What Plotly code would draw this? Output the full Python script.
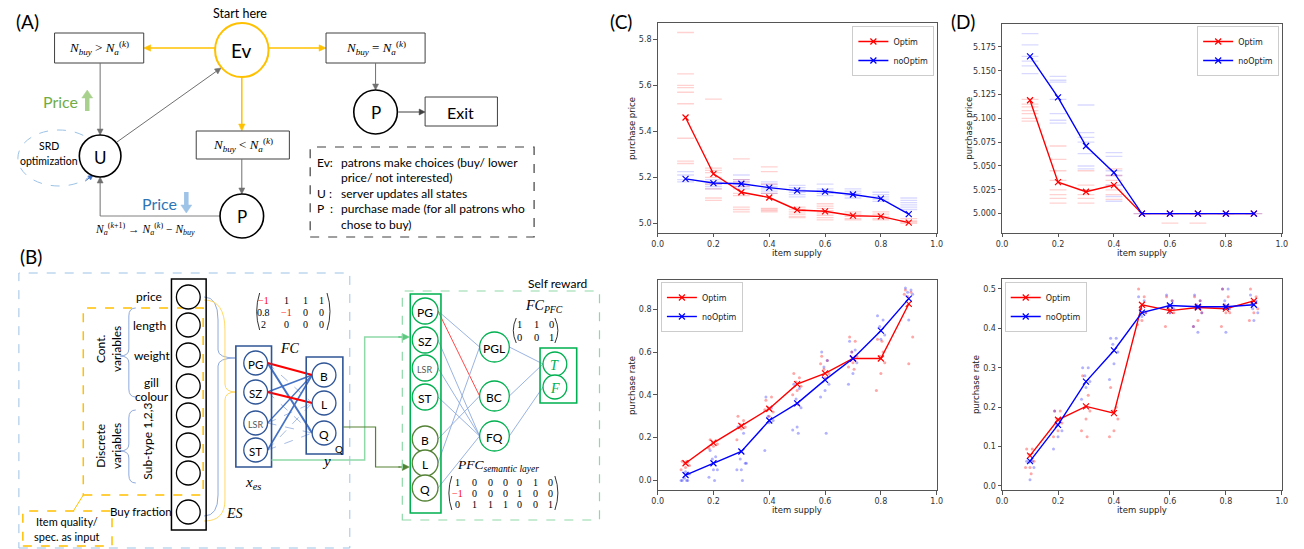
import math
import plotly.graph_objects as go

W, H = 1304, 549

# ---------------- data ----------------
SUPPLY = [0.1, 0.2, 0.3, 0.4, 0.5, 0.6, 0.7, 0.8, 0.9]
SERIES = ["Optim", "noOptim"]

C_PRICE_OPTIM = [5.46, 5.215, 5.135, 5.112, 5.058, 5.052, 5.033, 5.030, 5.003]
C_PRICE_NOOPTIM = [5.193, 5.175, 5.172, 5.155, 5.142, 5.138, 5.125, 5.107, 5.040]
D_PRICE_OPTIM = [5.119, 5.033, 5.023, 5.030, 5.000, 5.000, 5.000, 5.000, 5.000]
D_PRICE_NOOPTIM = [5.165, 5.122, 5.071, 5.043, 5.000, 5.000, 5.000, 5.000, 5.000]
C_RATE_OPTIM = [0.080, 0.175, 0.255, 0.335, 0.450, 0.500, 0.570, 0.570, 0.825]
C_RATE_NOOPTIM = [0.025, 0.080, 0.135, 0.280, 0.360, 0.470, 0.570, 0.700, 0.850]
D_RATE_OPTIM = [0.077, 0.168, 0.202, 0.185, 0.460, 0.445, 0.453, 0.450, 0.470]
D_RATE_NOOPTIM = [0.063, 0.155, 0.265, 0.344, 0.440, 0.458, 0.455, 0.455, 0.460]

# individual runs (per supply level)
C_PRICE_OPTIM_RUNS = [
    [5.83, 5.65, 5.60, 5.59, 5.57, 5.52, 5.37, 5.27, 5.26],
    [5.54, 5.24, 5.23, 5.22, 5.20, 5.17, 5.15, 5.11, 5.10],
    [5.28, 5.19, 5.18, 5.16, 5.13, 5.12, 5.07, 5.06, 5.05],
    [5.245, 5.225, 5.17, 5.13, 5.065, 5.06, 5.055, 5.05],
    [5.07, 5.06, 5.05, 5.04, 5.03, 5.025],
    [5.085, 5.075, 5.065, 5.055, 5.045, 5.035, 5.025, 5.015],
    [5.05, 5.04, 5.03, 5.02, 5.015],
    [5.05, 5.04, 5.03, 5.02, 5.015],
    [5.02, 5.01, 5.005, 5.0],
]
C_PRICE_NOOPTIM_RUNS = [
    [5.225, 5.21, 5.19, 5.18],
    [5.19, 5.18, 5.17, 5.16, 5.15],
    [5.21, 5.19, 5.18, 5.17, 5.16, 5.15],
    [5.18, 5.17, 5.16, 5.15, 5.14, 5.13],
    [5.165, 5.155, 5.145, 5.135, 5.125, 5.115],
    [5.17, 5.15, 5.14, 5.13, 5.12],
    [5.15, 5.14, 5.13, 5.12, 5.11],
    [5.135, 5.125, 5.115, 5.105, 5.095],
    [5.11, 5.10, 5.09, 5.08, 5.07, 5.06],
]
D_PRICE_OPTIM_RUNS = [
    [5.12, 5.115, 5.112, 5.108, 5.105, 5.100, 5.097],
    [5.071, 5.057, 5.045, 5.035, 5.025, 5.020, 5.016, 5.011],
    [5.045, 5.030, 5.025, 5.020, 5.016, 5.011],
    [5.047, 5.040, 5.035, 5.030, 5.025, 5.020, 5.015],
    [5.000],
    [5.000, 4.990],
    [5.000, 4.990],
    [5.000],
    [5.000],
]
D_PRICE_NOOPTIM_RUNS = [
    [5.189, 5.177, 5.165, 5.160, 5.155, 5.147],
    [5.144, 5.140, 5.138, 5.120, 5.105, 5.098, 5.095],
    [5.114, 5.085, 5.080, 5.075, 5.063, 5.050, 5.047],
    [5.064, 5.060, 5.045, 5.040, 5.030, 5.018, 5.013],
    [5.000], [5.000], [5.000], [5.000], [5.000],
]
C_RATE_OPTIM_RUNS = [
    [0.09, 0.085, 0.08, 0.07, 0.06, 0.05, 0.09],
    [0.19, 0.185, 0.18, 0.17, 0.16, 0.15],
    [0.30, 0.28, 0.26, 0.25, 0.24, 0.19],
    [0.375, 0.39, 0.34, 0.32, 0.30, 0.33],
    [0.50, 0.48, 0.46, 0.44, 0.42, 0.40, 0.355],
    [0.58, 0.56, 0.52, 0.50, 0.48, 0.545],
    [0.67, 0.65, 0.60, 0.58, 0.55, 0.53, 0.52],
    [0.66, 0.60, 0.58, 0.55, 0.50, 0.42, 0.65],
    [0.89, 0.88, 0.86, 0.67, 0.545, 0.87],
]
C_RATE_NOOPTIM_RUNS = [
    [0.0, 0.0, 0.01, 0.03, 0.04, 0.0, 0.0],
    [0.14, 0.11, 0.10, 0.05, 0.05, 0.015, 0.0],
    [0.25, 0.22, 0.10, 0.08, 0.05, 0.05, 0.0, 0.08],
    [0.39, 0.34, 0.30, 0.28, 0.27, 0.14],
    [0.45, 0.43, 0.38, 0.34, 0.25, 0.235, 0.22],
    [0.60, 0.56, 0.53, 0.45, 0.42, 0.39, 0.22],
    [0.65, 0.61, 0.60, 0.55, 0.50, 0.45],
    [0.77, 0.75, 0.72, 0.68, 0.66],
    [0.90, 0.89, 0.88, 0.87, 0.75],
]
D_RATE_OPTIM_RUNS = [
    [0.094, 0.094, 0.08, 0.063, 0.047, 0.047, 0.031],
    [0.19, 0.19, 0.17, 0.16, 0.14, 0.125],
    [0.28, 0.23, 0.20, 0.19, 0.17, 0.14, 0.125],
    [0.25, 0.20, 0.19, 0.17, 0.14, 0.125],
    [0.50, 0.48, 0.45, 0.44, 0.42, 0.41],
    [0.48, 0.47, 0.45, 0.44, 0.44, 0.405],
    [0.48, 0.47, 0.46, 0.44, 0.42, 0.405],
    [0.50, 0.48, 0.46, 0.44, 0.44, 0.405],
    [0.50, 0.48, 0.47, 0.45, 0.44, 0.42],
]
D_RATE_NOOPTIM_RUNS = [
    [0.063, 0.063, 0.06, 0.047, 0.016],
    [0.19, 0.17, 0.155, 0.14, 0.125, 0.094],
    [0.30, 0.30, 0.28, 0.265, 0.25, 0.22],
    [0.375, 0.375, 0.36, 0.34, 0.31, 0.27],
    [0.48, 0.47, 0.45, 0.44, 0.43],
    [0.485, 0.47, 0.46, 0.45, 0.44],
    [0.485, 0.47, 0.455, 0.44, 0.39, 0.405],
    [0.50, 0.50, 0.47, 0.45, 0.39],
    [0.485, 0.47, 0.45, 0.44, 0.42],
]
JITTER = [-0.012, 0.008, -0.004, 0.014, 0.0, -0.016, 0.004, 0.018, -0.008, 0.012]

FC_MATRIX = [["−1", "1", "1", "1"], ["0.8", "−1", "0", "0"], ["2", "0", "0", "0"]]
FCPFC_MATRIX = [["1", "1", "0"], ["0", "0", "1"]]
PFC_MATRIX = [["1", "0", "0", "0", "0", "1", "0"],
              ["−1", "0", "0", "0", "1", "0", "0"],
              ["0", "1", "1", "1", "0", "0", "1"]]

# ---------------- helpers ----------------
SANS = "Lato"
SERIF = "Liberation Serif"
PLT = "DejaVu Sans"
shapes, anns = [], []


def X(p):
    return p / W


def Y(p):
    return 1 - p / H


def txt(x, y, s, size=12, color="black", family=SANS, xanchor="center", angle=0):
    anns.append(dict(x=X(x), y=Y(y), xref="paper", yref="paper", text=s, showarrow=False,
                     font=dict(size=size, color=color, family=family), xanchor=xanchor,
                     yanchor="middle", textangle=angle, borderpad=0))


def rect(x0, y0, x1, y1, color="black", width=1.0, dash="solid", fill="rgba(0,0,0,0)"):
    shapes.append(dict(type="rect", xref="paper", yref="paper", x0=X(x0), x1=X(x1), y0=Y(y1), y1=Y(y0),
                       line=dict(color=color, width=width, dash=dash), fillcolor=fill, layer="above"))


def circ(cx, cy, r, color="black", width=1.5, fill="white", dash="solid"):
    shapes.append(dict(type="circle", xref="paper", yref="paper", x0=X(cx - r), x1=X(cx + r),
                       y0=Y(cy + r), y1=Y(cy - r), line=dict(color=color, width=width, dash=dash),
                       fillcolor=fill, layer="above"))


def ellipse(x0, y0, x1, y1, color, width=1.0, dash="dash"):
    shapes.append(dict(type="circle", xref="paper", yref="paper", x0=X(x0), x1=X(x1), y0=Y(y1), y1=Y(y0),
                       line=dict(color=color, width=width, dash=dash), fillcolor="rgba(0,0,0,0)", layer="above"))


def seg(x0, y0, x1, y1, color="#7f7f7f", width=1.0, dash="solid"):
    shapes.append(dict(type="line", xref="paper", yref="paper", x0=X(x0), x1=X(x1), y0=Y(y0), y1=Y(y1),
                       line=dict(color=color, width=width, dash=dash), layer="above"))


def path(cmds, color, width=1.0, dash="solid", fill=None):
    parts = []
    for c in cmds:
        op, pts = c[0], c[1:]
        coords = []
        for i in range(0, len(pts), 2):
            coords.append(f"{X(pts[i]):.5f},{Y(pts[i + 1]):.5f}")
        parts.append(op + " " + " ".join(coords))
    sh = dict(type="path", xref="paper", yref="paper", path=" ".join(parts),
              line=dict(color=color, width=width, dash=dash), layer="above")
    if fill:
        sh["fillcolor"] = fill
    shapes.append(sh)


def arrow(x0, y0, x1, y1, color="#606060", width=1.0, hl=7.0, hw=3.2):
    """straight arrow drawn as a line plus a filled triangular head"""
    dx, dy = x1 - x0, y1 - y0
    L = math.hypot(dx, dy)
    ux, uy = dx / L, dy / L
    bx, by = x1 - ux * hl, y1 - uy * hl
    seg(x0, y0, bx + ux * 0.5, by + uy * 0.5, color, width)
    path([("M", x1, y1), ("L", bx - uy * hw, by + ux * hw), ("L", bx + uy * hw, by - ux * hw), ("Z",)],
         color, 0.5, fill=color)


def matrix(rows, xs, ys, lx, rx, top, bot, size=10, red="−1"):
    for r, row in enumerate(rows):
        for c, v in enumerate(row):
            txt(xs[c], ys[r], v, size=size, color="#ff0000" if v == red else "black", family=SERIF)
    mid = (top + bot) / 2
    path([("M", lx + 3, top), ("Q", lx - 3, mid, lx + 3, bot)], "black", 0.8)
    path([("M", rx - 3, top), ("Q", rx + 3, mid, rx - 3, bot)], "black", 0.8)


def math_n(rel):
    return ("<i>N<sub>buy</sub></i> " + rel + " <i>N<sub>a</sub></i><sup>(<i>k</i>)</sup>")


# ---------------- panel A ----------------
ORANGE = "#FFC000"
txt(22, 21, "(A)", size=19)
txt(236, 14, "Start here", size=12.5)
arrow(211, 48, 139, 48, ORANGE, 1.5)
arrow(265, 48, 323, 48, ORANGE, 1.5)
arrow(238, 77, 238, 131, ORANGE, 1.5)
circ(238, 50, 27, ORANGE, 2)
txt(238, 51, "Ev", size=19)
rect(49, 33, 139, 63, "#404040", 1)
txt(94, 48, math_n("&gt;"), size=13, family=SERIF)
rect(323, 33, 423, 63, "#404040", 1)
txt(373, 48, math_n("="), size=13, family=SERIF)
rect(192, 131, 286, 159, "#404040", 1)
txt(239, 145, math_n("&lt;"), size=13, family=SERIF)
arrow(238, 159, 238, 194, "#707070", 1, 6, 3)
arrow(95, 63, 95, 135, "#707070", 1, 6, 3)
arrow(112, 142, 217, 68, "#707070", 1, 6, 3)
seg(216, 216, 95, 216, "#808080", 1)
arrow(95, 216, 95, 177, "#707070", 1, 6, 3)
ellipse(12, 130, 95, 186, "#9DC3E6", 1, "dash")
arrow(80, 181, 88, 175, "#4472C4", 1, 5, 2.5)
circ(238, 216, 22, "black", 1.6)
txt(238, 217, "P", size=17)
circ(95, 156, 21, "black", 1.6)
txt(95, 157, "U", size=17)
txt(43, 146, "SRD", size=10.5)
txt(43, 161, "optimization", size=10.5)
txt(55, 101, "Price", size=16, color="#70AD47")
arrow(82, 111, 82, 90, "#A9D18E", 4.5, 8, 5.5)
txt(155, 203, "Price", size=16, color="#2E75B6")
arrow(182, 192, 182, 213, "#9DC3E6", 4.5, 8, 5.5)
txt(140, 229, "<i>N<sub>a</sub></i><sup>(<i>k</i>+1)</sup> → <i>N<sub>a</sub></i><sup>(<i>k</i>)</sup> − <i>N<sub>buy</sub></i>",
    size=11.5, family=SERIF)
arrow(373, 63, 373, 90, "#707070", 1, 6, 3)
circ(373, 112, 22, "black", 1.6)
txt(373, 113, "P", size=17)
arrow(396, 112, 423, 112, "#404040", 1, 6, 3)
rect(423, 97, 496, 126, "#404040", 1)
txt(459, 112, "Exit", size=16)
rect(307, 147, 533, 237, "#404040", 1.2, "dash")
txt(313, 162, "Ev:", size=12, xanchor="left")
txt(337, 162, "patrons make choices (buy/ lower", size=12, xanchor="left")
txt(337, 177, "price/ not interested)", size=12, xanchor="left")
txt(313, 193, "U :", size=12, xanchor="left")
txt(337, 193, "server updates all states", size=12, xanchor="left")
txt(313, 208, "P  :", size=12, xanchor="left")
txt(337, 208, "purchase made (for all patrons who", size=12, xanchor="left")
txt(337, 224, "chose to buy)", size=12, xanchor="left")

# ---------------- panel B ----------------
LBLUE = "#9DC3E6"
DBLUE = "#2F5597"
MBLUE = "#4472C4"
LINEBLUE = "#8FAADC"
GREEN = "#00B050"
OLIVE = "#548235"
LGREEN = "#8FD9A8"

txt(25, 256, "(B)", size=19)
rect(13, 273, 347, 548, LBLUE, 1, "dash")
rect(78, 308, 199, 495, ORANGE, 1.5, "dash")
rect(17, 511, 107, 546, ORANGE, 1.5, "dash")
seg(78, 495, 68, 511, ORANGE, 1)
txt(62, 521, "Item quality/", size=11)
txt(62, 536, "spec. as input", size=11)

# braces connecting inputs to ES
path([("M", 200, 297), ("Q", 214, 297, 214, 320), ("L", 214, 350), ("Q", 214, 358, 232, 358)], LINEBLUE, 1)
path([("M", 200, 516), ("Q", 214, 516, 214, 495), ("L", 214, 366), ("Q", 214, 358, 232, 358)], LINEBLUE, 1)
path([("M", 200, 300), ("Q", 221, 300, 221, 330), ("L", 221, 384), ("Q", 221, 392, 232, 392)], "#FFD966", 1)
path([("M", 200, 521), ("Q", 221, 521, 221, 500), ("L", 221, 400), ("Q", 221, 392, 232, 392)], "#FFD966", 1)

rect(167, 279, 202, 530, "black", 1.5)
for cy in [297, 325, 355, 386, 415, 445, 473, 512]:
    circ(184, cy, 12, "black", 1.3)
txt(144, 296, "price", size=12)
txt(145, 325, "length", size=12)
txt(147, 355, "weight", size=12)
txt(147, 382, "gill", size=12)
txt(147, 396, "colour", size=12)
txt(136, 511, "Buy fraction", size=11.5)
txt(142, 441, "Sub-type 1,2,3", size=12, angle=-90)
txt(103, 349, "Cont.<br>variables", size=12, angle=-90)
txt(103, 446, "Discrete<br>variables", size=12, angle=-90)
path([("M", 131, 308), ("Q", 124, 308, 124, 316), ("L", 124, 349), ("Q", 124, 356, 115, 356),
      ("Q", 124, 356, 124, 363), ("L", 124, 389), ("Q", 124, 397, 131, 397)], LINEBLUE, 1)
path([("M", 131, 410), ("Q", 124, 410, 124, 418), ("L", 124, 444), ("Q", 124, 451, 115, 451),
      ("Q", 124, 451, 124, 458), ("L", 124, 475), ("Q", 124, 483, 131, 483)], LINEBLUE, 1)

# FC connections
XES_Y = [363, 392, 423, 450]
Y_Y = [375, 403, 433]
for (i, j, col, w, d) in [
    (0, 1, LINEBLUE, 0.8, "dash"), (1, 2, LINEBLUE, 0.8, "dash"), (2, 1, LINEBLUE, 0.8, "dash"),
    (2, 2, LINEBLUE, 0.8, "dash"), (3, 2, LINEBLUE, 0.8, "dash"), (3, 1, LINEBLUE, 0.8, "dash"),
    (1, 0, MBLUE, 1.6, "solid"), (2, 0, MBLUE, 1.3, "solid"), (3, 0, MBLUE, 1.6, "solid"),
    (0, 2, MBLUE, 2.0, "solid"), (0, 0, "#ff0000", 2.0, "solid"), (1, 1, "#ff0000", 2.0, "solid")]:
    seg(264, XES_Y[i], 309, Y_Y[j], col, w, d)

rect(232, 346, 268, 467, DBLUE, 1.6)
for cy, lab in zip(XES_Y, ["PG", "SZ", "LSR", "ST"]):
    circ(252, cy, 12, DBLUE, 1.3)
    txt(252, cy + 1, lab, size=9 if lab == "LSR" else 11.5, color="#595959" if lab == "LSR" else "black")
rect(303, 357, 340, 454, DBLUE, 1.6)
for cy, lab in zip(Y_Y, ["B", "L", "Q"]):
    circ(321, cy, 12, DBLUE, 1.3)
    txt(321, cy + 1, lab, size=12)
txt(336, 449, "Q", size=10)
txt(287, 348, "<i>FC</i>", size=14, family=SERIF)
txt(323, 461, "<i>y</i>", size=15, family=SERIF)
txt(249, 483, "<i>x<sub>es</sub></i>", size=15, family=SERIF)
txt(231, 513, "<i>ES</i>", size=14, family=SERIF)
matrix(FC_MATRIX, [260, 283, 302, 318], [300, 312, 324], 253, 327, 293, 330, size=10)

# green arrows into self reward
path([("M", 268, 460), ("L", 362, 460), ("L", 362, 337), ("L", 398, 337)], LGREEN, 1.5)
arrow(396, 337, 407, 337, "#5CC97F", 1.5, 7, 3.5)
path([("M", 340, 427), ("L", 373, 427), ("L", 373, 467), ("L", 398, 467)], OLIVE, 1.2)
arrow(396, 467, 407, 467, OLIVE, 1.2, 7, 3.5)

rect(400, 291, 599, 520, LGREEN, 1.2, "dash")
txt(557, 283, "Self reward", size=12)

COL_Y = [311, 340, 368, 397, 439, 463, 488]
MID_Y = [347, 396, 436]
OUT_Y = [364, 387]
for (i, j, col) in [(0, 0, LINEBLUE), (0, 1, "#ff3333"), (1, 2, LINEBLUE), (2, 2, LINEBLUE),
                    (3, 2, LINEBLUE), (4, 1, LINEBLUE), (5, 0, LINEBLUE), (6, 2, LINEBLUE)]:
    seg(436, COL_Y[i], 478, MID_Y[j], col, 0.9)
for (j, k) in [(0, 0), (1, 0), (2, 1)]:
    seg(508, MID_Y[j], 542, OUT_Y[k], LINEBLUE, 0.9)

rect(408, 294, 439, 513, GREEN, 1.6)
for cy, lab in zip(COL_Y, ["PG", "SZ", "LSR", "ST", "B", "L", "Q"]):
    col = GREEN if lab in ("PG", "SZ", "LSR", "ST") else OLIVE
    circ(423, cy, 13, col, 1.3)
    txt(423, cy + 1, lab, size=9 if lab == "LSR" else 12, color="#595959" if lab == "LSR" else "black")
for cy, lab in zip(MID_Y, ["PGL", "BC", "FQ"]):
    circ(493, cy, 15, GREEN, 1.3)
    txt(493, cy + 1, lab, size=12)
rect(539, 348, 576, 403, GREEN, 1.6)
for cy, lab in zip(OUT_Y, ["<i>T</i>", "<i>F</i>"]):
    circ(554, cy, 12, GREEN, 1.3)
    txt(554, cy + 1, lab, size=14, color=GREEN, family=SERIF)
txt(543, 306, "<i>FC<sub>PFC</sub></i>", size=14, family=SERIF)
matrix(FCPFC_MATRIX, [518, 535, 551], [324, 337], 512, 557, 318, 343, size=10.5)
txt(497, 465, "<i>PFC<sub>semantic layer</sub></i>", size=13.5, family=SERIF)
matrix(PFC_MATRIX, [456, 473, 489, 504, 518, 534, 550], [482, 493, 504], 447, 557, 476, 510, size=10)

# ---------------- charts C and D ----------------
txt(621, 22, "(C)", size=19)
txt(966, 22, "(D)", size=19)

PANELS = [
    # (xpx0, xpx1, ypx_top, ypx_bot, yrange, dtick, fmt, ytitle, ytitle_offset, optim, nooptim, runs_o, runs_n, kind)
    (657.7, 939.3, 23.3, 232.7, [4.959, 5.87], 0.2, ".1f", "purchase price", 26,
     C_PRICE_OPTIM, C_PRICE_NOOPTIM, C_PRICE_OPTIM_RUNS, C_PRICE_NOOPTIM_RUNS, "dash"),
    (1005.3, 1287.7, 24.0, 232.7, [4.980, 5.199], 0.025, ".3f", "purchase price", 33,
     D_PRICE_OPTIM, D_PRICE_NOOPTIM, D_PRICE_OPTIM_RUNS, D_PRICE_NOOPTIM_RUNS, "dash"),
    (657.7, 939.3, 280.0, 490.0, [-0.045, 0.937], 0.2, ".1f", "purchase rate", 26,
     C_RATE_OPTIM, C_RATE_NOOPTIM, C_RATE_OPTIM_RUNS, C_RATE_NOOPTIM_RUNS, "dot"),
    (1005.3, 1287.7, 279.3, 490.3, [-0.011, 0.5246], 0.1, ".1f", "purchase rate", 26,
     D_RATE_OPTIM, D_RATE_NOOPTIM, D_RATE_OPTIM_RUNS, D_RATE_NOOPTIM_RUNS, "dot"),
]
LEGEND_POS = [(937, 26), (1285, 26), (661, 282), (1008, 282)]

fig = go.Figure()
layout = {}
for k, (xa, xb, yt, yb, yr, dt, fmt, ytitle, yoff, opt, nop, ro, rn, kind) in enumerate(PANELS):
    n = "" if k == 0 else str(k + 1)
    xref, yref = "x" + n, "y" + n
    leg = "legend" + n
    for runs, rgba in [(ro, "rgba(255,0,0,0.18)"), (rn, "rgba(0,0,255,0.15)")]:
        xs, ys = [], []
        for i, vals in enumerate(runs):
            for m, v in enumerate(vals):
                xs.append(SUPPLY[i] + (JITTER[m % len(JITTER)] if kind == "dot" else 0.0))
                ys.append(v)
        if kind == "dash":
            mk = dict(symbol="line-ew", size=12, color=rgba, line=dict(width=1.3, color=rgba))
        else:
            mk = dict(symbol="circle", size=3, color=rgba.replace("0.18", "0.35").replace("0.15", "0.3"),
                      line=dict(width=0))
        fig.add_trace(go.Scatter(x=xs, y=ys, mode="markers", marker=mk, showlegend=False,
                                 hoverinfo="skip", xaxis=xref, yaxis=yref))
    for name, vals, col in [(SERIES[0], opt, "#ff0000"), (SERIES[1], nop, "#0000ff")]:
        fig.add_trace(go.Scatter(x=SUPPLY, y=vals, mode="lines+markers", name=name,
                                 line=dict(color=col, width=1.4),
                                 marker=dict(symbol="x-thin", size=6, line=dict(width=1.2, color=col)),
                                 xaxis=xref, yaxis=yref, legend=leg))
    ax_style = dict(showline=True, mirror=True, linecolor="#555555", linewidth=1, ticks="outside",
                    ticklen=3.5, tickcolor="#555555", showgrid=False, zeroline=False,
                    tickfont=dict(size=8, color="#333333", family=PLT))
    layout["xaxis" + n] = dict(domain=[xa / W, xb / W], anchor=yref, range=[0, 1], dtick=0.2,
                               tickformat=".1f", **ax_style)
    layout["yaxis" + n] = dict(domain=[1 - yb / H, 1 - yt / H], anchor=xref, range=yr, dtick=dt,
                               tickformat=fmt, **ax_style)
    lx, ly = LEGEND_POS[k]
    right = k < 2
    layout[leg] = dict(x=X(lx), y=Y(ly), xanchor="right" if right else "left", yanchor="top",
                       bgcolor="rgba(255,255,255,0.85)", bordercolor="#cccccc", borderwidth=1,
                       font=dict(size=8, family=PLT, color="#222222"), tracegroupgap=0,
                       itemwidth=30)
    txt((xa + xb) / 2, yb + 20, "item supply", size=8.5, color="#222222", family=PLT)
    txt(xa - yoff, (yt + yb) / 2, ytitle, size=8.5, color="#222222", family=PLT, angle=-90)

fig.update_layout(width=W, height=H, margin=dict(l=0, r=0, t=0, b=0), paper_bgcolor="white",
                  plot_bgcolor="white", shapes=shapes, annotations=anns, **layout)
fig.write_html("out.html", config={"displayModeBar": False},
               post_script="document.body.style.margin='0';document.body.style.overflow='hidden';")
